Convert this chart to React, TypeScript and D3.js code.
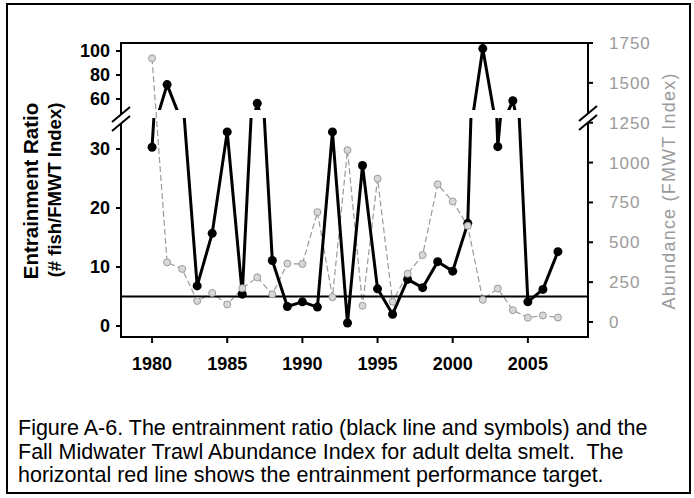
import * as d3 from "d3";

const years = [1980, 1981, 1982, 1983, 1984, 1985, 1986, 1987, 1988, 1989, 1990, 1991, 1992, 1993, 1994, 1995, 1996, 1997, 1998, 1999, 2000, 2001, 2002, 2003, 2004, 2005, 2006, 2007];
// entrainment ratio (left axis, broken)
const ratio = [30.3, 72, 40, 6.8, 15.7, 32.9, 5.4, 56.4, 11.1, 3.3, 4.1, 3.2, 32.9, 0.5, 27.2, 6.3, 2.0, 7.9, 6.5, 10.9, 9.3, 17.4, 102, 30.4, 58.5, 4.1, 6.2, 12.6];
// FMWT abundance index (right axis)
const abundance = [1654, 374, 333, 132, 182, 110, 212, 280, 174, 366, 364, 689, 156, 1078, 102, 899, 127, 303, 420, 864, 756, 603, 139, 210, 74, 27, 41, 28];
const target = 5;

const xTicks = [1980, 1985, 1990, 1995, 2000, 2005];
const lowerTicks = [0, 10, 20, 30];
const upperTicks = [60, 80, 100];
const rightTicks = [0, 250, 500, 750, 1000, 1250, 1500, 1750];

const caption = [
  "Figure A-6. The entrainment ratio (black line and symbols) and the",
  "Fall Midwater Trawl Abundance Index for adult delta smelt.  The",
  "horizontal red line shows the entrainment performance target.",
];

const FONT = "Arial, 'Liberation Sans', sans-serif";
const GREY = "#9a9a9a";

export default function App() {
  const left = 121, right = 588, top = 43, bottom = 337;
  const lowerTop = 118, upperBottom = 110;

  const x = d3.scaleLinear().domain([1978, 2009]).range([122, 588]);
  const yLow = d3.scaleLinear().domain([0, 30]).range([326, 149]);
  const yUp = d3.scaleLinear().domain([60, 100]).range([99, 51]);
  const yR = d3.scaleLinear().domain([0, 1750]).range([322, 43]);

  const pts = years.map((yr, i) => ({ yr, r: ratio[i], a: abundance[i] }));

  const lowLine = d3.line<any>().x((d) => x(d.yr)).y((d) => yLow(d.r));
  const upLine = d3.line<any>().x((d) => x(d.yr)).y((d) => yUp(d.r));
  const abLine = d3.line<any>().x((d) => x(d.yr)).y((d) => yR(d.a));

  // double slash for the axis breaks
  const breakMark = (cx, cy) => (
    <g>
      <polygon points={`${cx - 9},${cy + 2} ${cx + 9},${cy - 13} ${cx + 9},${cy - 4} ${cx - 9},${cy + 11}`} fill="white" />
      <line x1={cx - 9} y1={cy + 2} x2={cx + 9} y2={cy - 13} stroke="black" strokeWidth={2} />
      <line x1={cx - 9} y1={cy + 11} x2={cx + 9} y2={cy - 4} stroke="black" strokeWidth={2} />
    </g>
  );

  return (
    <svg width={694} height={498} style={{ position: "absolute", left: 0, top: 0, background: "white" }} fontFamily={FONT}>
      <defs>
        <clipPath id="clipLow">
          <rect x={left} y={lowerTop} width={right - left} height={bottom - lowerTop} />
        </clipPath>
        <clipPath id="clipUp">
          <rect x={left} y={top} width={right - left} height={upperBottom - top} />
        </clipPath>
      </defs>

      <rect x={7} y={4} width={683} height={489} fill="white" stroke="black" strokeWidth={2} />

      {/* abundance series (grey, right axis) */}
      <path d={abLine(pts)} fill="none" stroke={GREY} strokeWidth={1.2} strokeDasharray="6,3" />

      {/* target line */}
      <line x1={left} x2={right} y1={yLow(target)} y2={yLow(target)} stroke="black" strokeWidth={2} />

      {/* entrainment ratio, lower and upper panels */}
      <g clipPath="url(#clipLow)">
        <path d={lowLine(pts)} fill="none" stroke="black" strokeWidth={3} strokeLinejoin="round" />
        {pts.map((d, i) => <circle key={i} cx={x(d.yr)} cy={yLow(d.r)} r={4.5} fill="black" />)}
      </g>
      <g clipPath="url(#clipUp)">
        <path d={upLine(pts)} fill="none" stroke="black" strokeWidth={3} strokeLinejoin="round" />
        {pts.map((d, i) => <circle key={i} cx={x(d.yr)} cy={yUp(d.r)} r={4.5} fill="black" />)}
      </g>

      {pts.map((d, i) => (
        <circle key={i} cx={x(d.yr)} cy={yR(d.a)} r={3.5} fill="#d8d8d8" stroke={GREY} strokeWidth={1} />
      ))}

      {/* plot frame */}
      <rect x={left} y={top} width={right - left} height={bottom - top} fill="none" stroke="black" strokeWidth={2} />
      {breakMark(left, 120)}
      {breakMark(right, 119)}

      {/* x axis */}
      {xTicks.map((t) => (
        <g key={t}>
          <line x1={x(t)} x2={x(t)} y1={bottom} y2={bottom + 6} stroke="black" strokeWidth={2} />
          <text x={x(t)} y={370} textAnchor="middle" fontSize={18} fontWeight="bold">{t}</text>
        </g>
      ))}

      {/* left axis */}
      {lowerTicks.map((t) => (
        <g key={t}>
          <line x1={left - 5} x2={left} y1={yLow(t)} y2={yLow(t)} stroke="black" strokeWidth={2} />
          <text x={110} y={yLow(t)} dy="0.35em" textAnchor="end" fontSize={18} fontWeight="bold">{t}</text>
        </g>
      ))}
      {upperTicks.map((t) => (
        <g key={t}>
          <line x1={left - 5} x2={left} y1={yUp(t)} y2={yUp(t)} stroke="black" strokeWidth={2} />
          <text x={110} y={yUp(t)} dy="0.35em" textAnchor="end" fontSize={18} fontWeight="bold">{t}</text>
        </g>
      ))}
      <text transform="translate(38,191) rotate(-90)" textAnchor="middle" fontSize={20.5} fontWeight="bold">Entrainment Ratio</text>
      <text transform="translate(61,190) rotate(-90)" textAnchor="middle" fontSize={18.5} fontWeight="bold">(# fish/FMWT Index)</text>

      {/* right axis */}
      {rightTicks.map((t) => (
        <g key={t}>
          <line x1={right} x2={right + 5} y1={yR(t)} y2={yR(t)} stroke="black" strokeWidth={2} />
          <text x={609} y={yR(t)} dy="0.35em" fontSize={17} fill={GREY} letterSpacing={1}>{t}</text>
        </g>
      ))}
      <text transform="translate(675,191) rotate(-90)" textAnchor="middle" fontSize={18} fill={GREY} letterSpacing={1.2}>Abundance (FMWT Index)</text>

      {/* caption */}
      {caption.map((line, i) => (
        <text key={i} x={18} y={435 + i * 23.5} fontSize={21.5} style={{ whiteSpace: "pre" }}>{line}</text>
      ))}
    </svg>
  );
}
